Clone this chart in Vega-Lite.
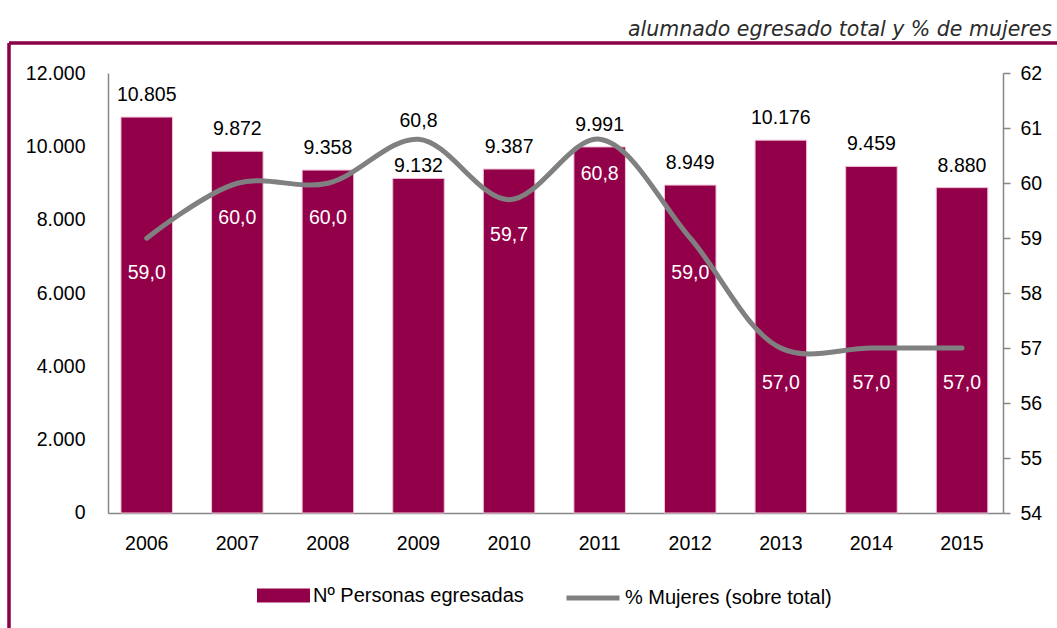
{
  "$schema": "https://vega.github.io/schema/vega-lite/v6.json",
  "width": 1048,
  "height": 585,
  "autosize": {"type": "none"},
  "padding": {"left": 9, "top": 43, "right": 0, "bottom": 0},
  "background": "white",
  "title": {
    "text": "alumnado egresado total y % de mujeres",
    "anchor": "end",
    "frame": "group",
    "font": "DejaVu Sans",
    "fontStyle": "italic",
    "fontWeight": "normal",
    "fontSize": 20.5,
    "color": "#2b2b2b",
    "baseline": "alphabetic",
    "offset": -13,
    "dx": -5
  },
  "config": {
    "locale": {"number": {"decimal": ",", "thousands": ".", "grouping": [3], "currency": ["", " €"]}},
    "view": {"stroke": "#8C0045", "strokeWidth": 3.5, "strokeDash": [1048, 1633, 585, 0]},
    "font": "Liberation Sans",
    "axis": {
      "labelFont": "Liberation Sans",
      "labelFontSize": 19.5,
      "labelColor": "#000000",
      "domainColor": "#868686",
      "domainWidth": 1.5,
      "grid": false,
      "title": null
    },
    "legend": {
      "labelFont": "Liberation Sans",
      "labelFontSize": 20,
      "labelColor": "#000000",
      "labelLimit": 400,
      "padding": 0
    },
    "text": {"font": "Liberation Sans", "fontSize": 19.5}
  },
  "data": {
    "values": [
      {"year": "2006", "n": 10805, "p": 59.0},
      {"year": "2007", "n": 9872, "p": 60.0},
      {"year": "2008", "n": 9358, "p": 60.0},
      {"year": "2009", "n": 9132, "p": 60.8},
      {"year": "2010", "n": 9387, "p": 59.7},
      {"year": "2011", "n": 9991, "p": 60.8},
      {"year": "2012", "n": 8949, "p": 59.0},
      {"year": "2013", "n": 10176, "p": 57.0},
      {"year": "2014", "n": 9459, "p": 57.0},
      {"year": "2015", "n": 8880, "p": 57.0}
    ]
  },
  "encoding": {
    "x": {
      "field": "year",
      "type": "ordinal",
      "scale": {"paddingInner": 0.431, "paddingOuter": 1.0625, "align": 0.618},
      "axis": {
        "orient": "bottom",
        "labelAngle": 0,
        "ticks": false,
        "tickSize": 0,
        "labelPadding": 21,
        "offset": -115,
        "domainDash": [0, 99, 895, 3000]
      }
    }
  },
  "layer": [
    {
      "encoding": {
        "y": {
          "field": "n",
          "type": "quantitative",
          "scale": {"domain": [-3138.5, 12826.9], "nice": false, "zero": false},
          "axis": {
            "orient": "left",
            "values": [0, 2000, 4000, 6000, 8000, 10000, 12000],
            "format": ",.0f",
            "ticks": false,
            "tickSize": 0,
            "labelPadding": 23,
            "offset": -99,
            "domainDash": [0, 115, 440, 3000]
          }
        }
      },
      "layer": [
        {
          "mark": {"type": "bar", "stroke": "#f0c4d8", "strokeWidth": 1},
          "encoding": {
            "y2": {"datum": 0},
            "fill": {
              "datum": "Nº Personas egresadas",
              "type": "nominal",
              "scale": {"range": ["#93004A"]},
              "legend": {
                "orient": "none",
                "legendX": 248,
                "legendY": 526,
                "title": null,
                "symbolType": "M-1,-0.264H1V0.264H-1Z",
                "symbolSize": 2809,
                "symbolStrokeWidth": 0,
                "labelOffset": 3
              }
            }
          }
        },
        {
          "transform": [{"filter": "datum.year != '2009'"}],
          "mark": {"type": "text", "baseline": "alphabetic", "dy": -16, "color": "#000000"},
          "encoding": {"text": {"field": "n", "type": "quantitative", "format": ",.0f"}}
        },
        {
          "transform": [{"filter": "datum.year == '2009'"}],
          "mark": {"type": "text", "baseline": "alphabetic", "dy": -6, "color": "#000000"},
          "encoding": {"text": {"field": "n", "type": "quantitative", "format": ",.0f"}}
        }
      ]
    },
    {
      "encoding": {
        "y": {
          "field": "p",
          "type": "quantitative",
          "scale": {"domain": [51.9077, 62.5513], "nice": false, "zero": false},
          "axis": {
            "orient": "right",
            "values": [54, 55, 56, 57, 58, 59, 60, 61, 62],
            "format": "d",
            "ticks": true,
            "tickSize": 7,
            "tickColor": "#868686",
            "tickWidth": 1.5,
            "labelPadding": 10,
            "offset": -54,
            "domainDash": [0, 115, 440, 3000]
          }
        }
      },
      "layer": [
        {
          "mark": {"type": "line", "interpolate": "catmull-rom", "strokeWidth": 5, "strokeCap": "round"},
          "encoding": {
            "stroke": {
              "datum": "% Mujeres (sobre total)",
              "type": "nominal",
              "scale": {"range": ["#808080"]},
              "legend": {
                "orient": "none",
                "legendX": 555,
                "legendY": 526,
                "title": null,
                "symbolType": "stroke",
                "symbolSize": 2809,
                "symbolStrokeWidth": 5,
                "labelOffset": 3
              }
            }
          }
        },
        {
          "transform": [{"filter": "datum.year != '2009'"}],
          "mark": {"type": "text", "baseline": "middle", "dy": 35, "color": "#ffffff"},
          "encoding": {"text": {"field": "p", "type": "quantitative", "format": ".1f"}}
        },
        {
          "transform": [{"filter": "datum.year == '2009'"}],
          "mark": {"type": "text", "baseline": "middle", "dy": -18, "color": "#000000"},
          "encoding": {"text": {"field": "p", "type": "quantitative", "format": ".1f"}}
        }
      ]
    }
  ],
  "resolve": {"scale": {"y": "independent"}}
}
